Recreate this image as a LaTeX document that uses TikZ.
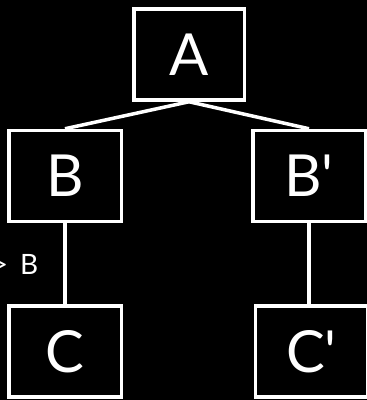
\documentclass[tikz,border=0pt]{standalone}
\usepackage{fontspec}
\setmainfont{Lato}
\usetikzlibrary{positioning}
\tikzset{
  box/.style={rectangle, draw=white, line width=3.5pt, text=white,
              minimum width=112.5pt, minimum height=91pt, inner sep=0pt,
              font=\fontsize{58}{60}\selectfont},
  edge/.style={draw=white, line width=3.5pt},
  note/.style={text=white, inner sep=0pt, font=\fontsize{28}{30}\selectfont},
}
\begin{document}
\begin{tikzpicture}[x=1pt, y=1pt]
  \useasboundingbox (0,0) rectangle (367,-400);
  \fill[black] (0,0) rectangle (367,-400);
  \clip (0,0) rectangle (367,-400);

  % Root
  \node[box, minimum width=110.5pt] (a) at (189,-54.5) {A};

  % Second level
  \node[box, below left=27pt and 9pt of a] (b) {B};
  \node[box, below right=27pt and 5pt of a] (bp) {B\textquotesingle};

  % Third level
  \node[box, below=81pt of b] (c) {C};
  \node[box, below=81pt of bp, xshift=2.5pt] (cp) {C\textquotesingle};

  % Label
  \node[note, anchor=east] (lbl) at (38.5,-264) {>\hspace{5pt} B};

  % Edges
  \draw[edge] (a.south) -- (b.north);
  \draw[edge] (a.south) -- (bp.north);
  \draw[edge] (b) -- (c);
  \draw[edge] (bp.south) -- (bp.south |- cp.north);
\end{tikzpicture}
\end{document}
